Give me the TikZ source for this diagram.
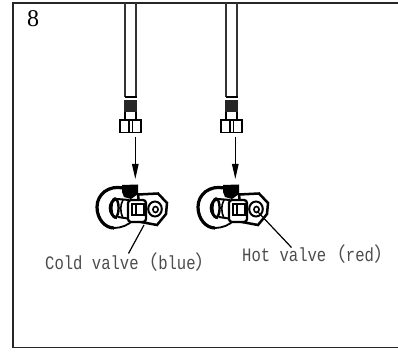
\documentclass[tikz,border=0pt]{standalone}
\usepackage{fontspec}
\setmonofont[FakeStretch=0.82]{Liberation Mono}
\setmainfont{Liberation Serif}
\newfontfamily\cjk{Noto Sans CJK SC}
\usetikzlibrary{arrows.meta}
\tikzset{
  frame/.style={line width=1.5pt,black!85},
  hose/.style={line width=1.1pt,black!80},
  thick line/.style={line width=1.3pt,black},
  arrowline/.style={line width=1.1pt,black,-{Triangle[length=15pt,width=6.5pt]}},
  leader/.style={line width=1.2pt,black},
  lab/.style={inner sep=0pt,text=black!70,font=\ttfamily\fontsize{19}{19}\selectfont,anchor=base west},
}
\newcommand{\paren}[1]{{\cjk\fontsize{19.6}{19}\selectfont #1}}
\newcommand{\vfit}[1]{%
\begin{scope}[shift={(#1,0)}]
 \draw[hose] (-5.5,3) -- (-5.5,97);
 \draw[hose] (5.5,3) -- (5.5,97);
 \draw[thick line] (-6,97) -- (6,97);
 \fill[black!85] (-6.5,100.5) rectangle (6.5,112);
 \draw[thick line] (-5.5,112) -- (-5.5,119);
 \draw[thick line] (5.5,112) -- (5.5,119);
 \draw[line width=1.8pt,black] (-10.5,120) rectangle (10.5,132.5);
 \draw[line width=1.6pt,black] (-1.5,120) -- (-1.5,132.5);
 \draw[line width=1pt,black] (1.5,120) -- (1.5,132.5);
\end{scope}}
\newcommand{\valve}[1]{%
\begin{scope}[shift={(#1,0)}]
 % wall flange
 \draw[line width=3.2pt,black] (18,188) .. controls (4,185) and (-8,194) .. (-8,207) .. controls (-8,219) and (0,228) .. (9,228);
 \draw[line width=1.8pt,black] (9,228) .. controls (16,228) and (24,225) .. (28,220);
 % inner rings
 \draw[line width=2.6pt,black] (12,199) .. controls (7,200) and (5,204) .. (5,208) .. controls (5,213) and (8,217) .. (12,218);
 \draw[line width=2.4pt,black] (10,208) ellipse (3.6 and 9.5);
 % stem
 \draw[line width=2pt,black] (12,199) -- (24,200);
 \draw[line width=2pt,black] (13,217) -- (26,219);
 \draw[line width=1.6pt,black] (18,200) .. controls (15,205) and (15,212) .. (18,218);
 % hex
 \draw[line width=2.5pt,black,fill=white] (33,194.5) -- (53,193.5) -- (62,203) -- (61,214) -- (52,225) -- (36,222) -- cycle;
 \draw[line width=2pt,black] (50,209) circle (6.8 and 7.5);
 \draw[line width=1.6pt,black] (50.5,209.5) circle (2.6 and 3);
 % nut body
 \draw[line width=2.3pt,black,fill=white,rounded corners=3pt] (23,200) rectangle (41,222);
 \draw[line width=2.6pt,black] (27,204) rectangle (39,215);
 \draw[line width=1.6pt,black] (31,204) -- (31,215);
 % handle
 \fill[black] (17,185) -- (33,184.5) -- (33,194) -- (26,199) -- (19,197) -- (17,192) -- cycle;
\end{scope}}
\begin{document}
\begin{tikzpicture}[x=1pt,y=-1pt]
\useasboundingbox (0,0) rectangle (398,352);
\fill[white] (0,0) rectangle (398,352);
\coordinate (tl) at (13,3); \coordinate (tr) at (398,3);
\coordinate (bl) at (13,347.5); \coordinate (br) at (398,347.5);
\draw[frame] (tr) -- (tl) -- (bl) -- (br);
\node[inner sep=0pt,anchor=base west,font=\rmfamily\fontsize{24}{24}\selectfont] (num) at (27,27) {8};
\vfit{130.5}
\vfit{231.5}
\coordinate (a1s) at (135.3,137); \coordinate (a1e) at (135.3,179);
\coordinate (a2s) at (235.3,137); \coordinate (a2e) at (235.3,179);
\draw[arrowline] (a1s) -- (a1e);
\draw[arrowline] (a2s) -- (a2e);
\valve{105}
\valve{206}
\node[lab] (cold) at (45,269) {Cold valve\paren{（}blue\paren{）}};
\node[lab] (hot) at (242,261.5) {Hot valve\paren{（}red\paren{）}};
\coordinate (c1) at (144,225); \coordinate (c2) at (128.5,253.5);
\coordinate (h1) at (257,211); \coordinate (h2) at (291.5,247.5);
\draw[leader] (c1) -- (c2);
\draw[leader] (h1) -- (h2);
\end{tikzpicture}
\end{document}
